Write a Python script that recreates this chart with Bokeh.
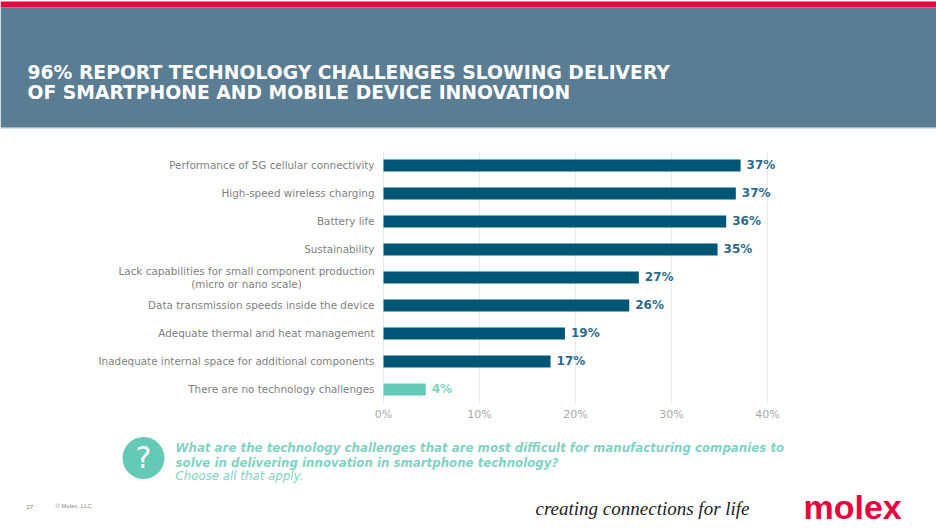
from bokeh.plotting import figure
from bokeh.layouts import column
from bokeh.models import Range1d, FactorRange, FixedTicker, PrintfTickFormatter, ColumnDataSource
from bokeh.core.properties import value
from bokeh.embed import file_html
from bokeh.resources import INLINE

categories = [
    "Performance of 5G cellular connectivity",
    "High-speed wireless charging",
    "Battery life",
    "Sustainability",
    "Lack capabilities for small component production (micro or nano scale)",
    "Data transmission speeds inside the device",
    "Adequate thermal and heat management",
    "Inadequate internal space for additional components",
    "There are no technology challenges",
]
wrapped_label = ["Lack capabilities for small component production", "(micro or nano scale)"]
values = [37.2, 36.7, 35.7, 34.8, 26.6, 25.6, 18.9, 17.4, 4.4]
value_labels = ["37%", "37%", "36%", "35%", "27%", "26%", "19%", "17%", "4%"]
bar_colors = ["#005677"] * 8 + ["#64c9b5"]
label_colors = ["#2a6a8c"] * 8 + ["#7fd3c2"]
x_ticks = [0, 10, 20, 30, 40]
title_lines = ["96% REPORT TECHNOLOGY CHALLENGES SLOWING DELIVERY",
               "OF SMARTPHONE AND MOBILE DEVICE INNOVATION"]
question_lines = ["What are the technology challenges that are most difficult for manufacturing companies to",
                  "solve in delivering innovation in smartphone technology?"]
question_note = "Choose all that apply."
GREY = "#7f7f7f"
TEAL = "#7fd3c2"
RED = "#e4063c"


def strip(y_top, y_bottom):
    f = figure(width=936, height=y_bottom - y_top, x_range=Range1d(0, 936), y_range=Range1d(y_bottom, y_top),
               min_border_left=0, min_border_right=0, min_border_top=0, min_border_bottom=0,
               x_axis_location=None, y_axis_location=None, output_backend="svg", toolbar_location=None)
    f.outline_line_alpha = 0
    f.grid.visible = False
    return f


def put(f, x, y, text, size, color, font="DejaVu Sans", style="normal", align="left", baseline="middle"):
    f.text(x=[x], y=[y], text=[text], text_color=color, text_font=value(font), text_font_size=size,
           text_font_style=style, text_align=align, text_baseline=baseline)


# header
head = strip(0, 151)
head.quad(left=[0], right=[936], top=[1], bottom=[7], fill_color=RED, line_alpha=0)
head.quad(left=[0], right=[936], top=[7], bottom=[126.5], fill_color="#5a7d93", line_alpha=0)
head.quad(left=[0], right=[936], top=[126.5], bottom=[128], fill_color="#a5bac8", line_alpha=0)
put(head, 27, 72, title_lines[0], "18.75px", "white", style="bold")
put(head, 27, 91.5, title_lines[1], "18.75px", "white", style="bold")

# chart
src = ColumnDataSource(dict(cat=categories, val=values, lab=value_labels, col=bar_colors, lcol=label_colors))
single = ColumnDataSource(dict(cat=categories[:4] + categories[5:], txt=categories[:4] + categories[5:]))

p = figure(width=936, height=274,
           min_border_left=0, min_border_right=0, min_border_top=0, min_border_bottom=22,
           x_range=Range1d(-383 / 9.6, 553 / 9.6), y_range=FactorRange(factors=categories[::-1]),
           y_axis_location=None, output_backend="svg", toolbar_location=None)
p.outline_line_alpha = 0

p.hbar(y="cat", left=0, right="val", height=0.43, fill_color="col", line_alpha=0, source=src)
p.text(x="val", y="cat", text="lab", text_color="lcol", x_offset=6, y_offset=-1, text_baseline="middle",
       text_font=value("DejaVu Sans"), text_font_style="bold", text_font_size="12px", source=src)
p.text(x=0, y="cat", text="txt", text_color=GREY, x_offset=-9, y_offset=-1, text_align="right",
       text_baseline="middle", text_font=value("DejaVu Sans"), text_font_size="10.4px", source=single)
p.text(x=[0], y=[categories[4]], text=[wrapped_label[0]], text_color=GREY, x_offset=-9, y_offset=-6.5,
       text_align="right", text_baseline="middle", text_font=value("DejaVu Sans"), text_font_size="10.4px")
p.text(x=[0], y=[categories[4]], text=[wrapped_label[1]], text_color=GREY, x_offset=-137, y_offset=6.5,
       text_align="center", text_baseline="middle", text_font=value("DejaVu Sans"), text_font_size="10.4px")

p.xaxis.ticker = FixedTicker(ticks=x_ticks)
p.xaxis.formatter = PrintfTickFormatter(format="%d%%")
p.xaxis.axis_line_alpha = 0
p.xaxis.major_tick_line_alpha = 0
p.xaxis.minor_tick_line_alpha = 0
p.xaxis.major_tick_out = 0
p.xaxis.minor_tick_out = 0
p.xaxis.major_label_standoff = 4
p.xaxis.major_label_text_font = "DejaVu Sans"
p.xaxis.major_label_text_font_size = "11px"
p.xaxis.major_label_text_color = "#a8a8a8"
p.ygrid.grid_line_alpha = 0
p.xgrid.grid_line_color = "#e9e9e9"
p.xgrid.grid_line_width = 1

# footer
foot = strip(425, 532)
foot.scatter(x=[143], y=[457.5], size=42, marker="circle", fill_color="#64c9b5", line_alpha=0)
put(foot, 143, 457, "?", "30px", "white", align="center")
put(foot, 175, 447, question_lines[0], "11.8px", TEAL, style="bold italic")
put(foot, 175, 462, question_lines[1], "11.8px", TEAL, style="bold italic")
put(foot, 175, 475.5, question_note, "11.8px", TEAL, style="italic")
put(foot, 26, 506, "27", "6px", "#777777", font="Liberation Sans")
put(foot, 55, 505, "© Molex, LLC", "6px", "#888888", font="Liberation Sans")
put(foot, 535, 508, "creating connections for life", "19px", "#222222", font="Liberation Serif", style="italic")
put(foot, 803, 506, "molex", "34px", RED, font="Liberation Sans", style="bold")

layout = column(head, p, foot, spacing=0)
open("out.html", "w").write(file_html(layout, INLINE))
